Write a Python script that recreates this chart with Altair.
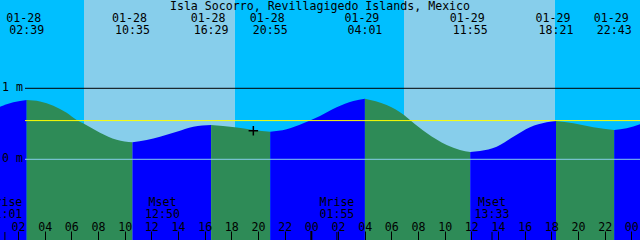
import altair as alt
import pandas as pd

title_text = "Isla Socorro, Revillagigedo Islands, Mexico"

range_start = "01-28 00:39"
range_end = "01-30 00:39"

# tide readings (time, metres)
tide_times = [
    "01-28 00:39", "01-28 01:39", "01-28 02:39", "01-28 03:39", "01-28 04:39",
    "01-28 05:39", "01-28 06:24", "01-28 06:57", "01-28 08:09", "01-28 09:24",
    "01-28 10:35", "01-28 11:39", "01-28 12:39", "01-28 13:54", "01-28 15:09",
    "01-28 16:29", "01-28 18:16", "01-28 19:39", "01-28 20:55", "01-28 22:09",
    "01-28 23:24", "01-29 00:39", "01-29 01:54", "01-29 03:09", "01-29 04:01",
    "01-29 05:39", "01-29 06:57", "01-29 07:24", "01-29 08:39", "01-29 10:09",
    "01-29 11:09", "01-29 11:55", "01-29 12:39", "01-29 13:54", "01-29 15:09",
    "01-29 16:24", "01-29 17:39", "01-29 18:21", "01-29 19:39", "01-29 21:09",
    "01-29 22:43", "01-29 23:39", "01-30 00:39",
]
tide_heights = [
    0.741, 0.803, 0.835, 0.815, 0.755,
    0.655, 0.553, 0.500, 0.375, 0.275,
    0.239, 0.272, 0.318, 0.389, 0.459,
    0.482, 0.451, 0.414, 0.389, 0.422,
    0.507, 0.610, 0.732, 0.821, 0.854,
    0.765, 0.624, 0.555, 0.370, 0.201,
    0.131, 0.103, 0.117, 0.177, 0.318,
    0.451, 0.521, 0.539, 0.507, 0.451,
    0.413, 0.437, 0.493,
]
extreme_times = [
    "01-28 02:39", "01-28 10:35", "01-28 16:29", "01-28 20:55",
    "01-29 04:01", "01-29 11:55", "01-29 18:21", "01-29 22:43",
]
sun_times = ["01-28 06:57", "01-28 18:16", "01-29 06:57", "01-29 18:16"]
moon_times = ["01-28 01:01", "01-28 12:50", "01-29 01:55", "01-29 13:33"]
moon_events = ["Mrise", "Mset", "Mrise", "Mset"]
moon_tick_times = ["01-28 01:01", "01-29 01:55", "01-29 13:33"]
midnight_times = ["01-29 00:00"]
tick_hours = ["01-28 02:00", "01-28 04:00", "01-28 06:00", "01-28 08:00",
              "01-28 10:00", "01-28 12:00", "01-28 14:00", "01-28 16:00",
              "01-28 18:00", "01-28 20:00", "01-28 22:00", "01-29 00:00",
              "01-29 02:00", "01-29 04:00", "01-29 06:00", "01-29 08:00",
              "01-29 10:00", "01-29 12:00", "01-29 14:00", "01-29 16:00",
              "01-29 18:00", "01-29 20:00", "01-29 22:00", "01-30 00:00"]
mean_level = 0.545
marker_time = "01-28 19:39"
marker_height = 0.403
level_values = [1, 0]
level_texts = ["1 m", "0 m"]
y_bottom = -1.1366
y_top = 2.2437


def hrs(s):
    """hours since 01-28 00:00"""
    day = int(s[3:5]) - 28
    return day * 24 + int(s[6:8]) + int(s[9:11]) / 60.0


# ---- tables ----
rows = []
seg = 0
ext = set(extreme_times)
for t, h in zip(tide_times, tide_heights):
    rows.append(dict(t=hrs(t), h=h, seg=seg))
    if t in ext:
        seg += 1
        rows.append(dict(t=hrs(t), h=h, seg=seg))
tide = pd.DataFrame(rows)
ends = tide.groupby("seg")["h"].agg(["first", "last"])
tide["kind"] = tide["seg"].map(
    lambda s: "rising" if ends.loc[s, "last"] > ends.loc[s, "first"] else "falling")
tide["base"] = y_bottom

bounds = [range_start] + sun_times + [range_end]
sky = pd.DataFrame({
    "t": [hrs(b) for b in bounds[:-1]],
    "t2": [hrs(b) for b in bounds[1:]],
    "kind": ["night" if i % 2 == 0 else "day" for i in range(len(bounds) - 1)],
})

extremes = pd.DataFrame({
    "t": [hrs(e) for e in extreme_times],
    "date": [e[:5] for e in extreme_times],
    "time": [e[6:] for e in extreme_times],
})
moon = pd.DataFrame({
    "t": [hrs(m) for m in moon_times],
    "ev": moon_events,
    "time": [m[6:] for m in moon_times],
})
moon_ticks = pd.DataFrame({"t": [hrs(m) for m in moon_tick_times]})
midnights = pd.DataFrame({"t": [hrs(m) for m in midnight_times]})
levels = pd.DataFrame({"h": level_values, "label": level_texts})
marker = pd.DataFrame({"t": [hrs(marker_time)], "h": [marker_height]})
title_df = pd.DataFrame({"label": [title_text]})

# ---- scales ----
FONT = "DejaVu Sans Mono"
FS = 11.6
x_scale = alt.Scale(domain=[hrs(range_start), hrs(range_end)], nice=False, zero=False)
y_scale = alt.Scale(domain=[y_bottom, y_top], nice=False, zero=False)
color_scale = alt.Scale(domain=["night", "day", "rising", "falling"],
                        range=["#00BFFF", "#87CEEB", "#0000FF", "#2E8B57"])
AX = alt.Axis(orient="top", offset=-240, values=[hrs(v) for v in tick_hours],
              labelExpr="(datum.value % 24 < 10 ? '0' : '') + (datum.value % 24)",
              domain=False, grid=False, ticks=True, tickSize=9,
              tickColor="black", tickWidth=1, labelFont=FONT,
              labelFontSize=FS, labelColor="black", labelPadding=1,
              labelBaseline="alphabetic", labelOverlap=False,
              labelFlush=False, labelAngle=0, title=None, zindex=1)


def X(field="t"):
    return alt.X(f"{field}:Q", scale=x_scale, axis=AX)


def Y(field="h"):
    return alt.Y(f"{field}:Q", scale=y_scale, axis=None, stack=None)


sky_layer = alt.Chart(sky).mark_rect().encode(
    x=X("t"), x2="t2:Q", y=alt.value(0), y2=alt.value(240),
    color=alt.Color("kind:N", scale=color_scale, legend=None))

tide_layer = alt.Chart(tide).mark_area(interpolate="monotone", orient="vertical").encode(
    x=X("t"), y=Y("h"), y2="base:Q",
    color=alt.Color("kind:N", scale=color_scale, legend=None),
    detail="seg:N")

one_rule = alt.Chart(levels[levels.h == 1]).mark_rule(color="black", strokeWidth=1).encode(
    y=Y("h"), x=alt.value(25), x2=alt.value(640))
zero_rule = alt.Chart(levels[levels.h == 0]).mark_rule(color="#87CEEB", strokeWidth=1).encode(
    y=Y("h"), x=alt.value(25), x2=alt.value(640))
mean_rule = alt.Chart(pd.DataFrame({"h": [mean_level]})).mark_rule(
    color="#FFFF00", strokeWidth=1).encode(y=Y("h"), x=alt.value(25), x2=alt.value(640))

level_text = alt.Chart(levels).mark_text(
    font=FONT, fontSize=FS, color="black", align="left", baseline="middle").encode(
    x=alt.value(2), y=Y("h"), text="label:N")

title_layer = alt.Chart(title_df).mark_text(
    font=FONT, fontSize=FS, color="black", align="center", baseline="alphabetic").encode(
    x=alt.value(320), y=alt.value(9.5), text="label:N")

date_text = alt.Chart(extremes).mark_text(
    font=FONT, fontSize=FS, color="black", align="center", baseline="alphabetic", dx=-3).encode(
    x=X("t"), y=alt.value(21.7), text="date:N")
time_text = alt.Chart(extremes).mark_text(
    font=FONT, fontSize=FS, color="black", align="center", baseline="alphabetic").encode(
    x=X("t"), y=alt.value(34.2), text="time:N")

moon_ev_text = alt.Chart(moon).mark_text(
    font=FONT, fontSize=FS, color="black", align="center", baseline="alphabetic").encode(
    x=X("t"), y=alt.value(206), text="ev:N")
moon_time_text = alt.Chart(moon).mark_text(
    font=FONT, fontSize=FS, color="black", align="center", baseline="alphabetic").encode(
    x=X("t"), y=alt.value(217.7), text="time:N")

moon_tick_layer = alt.Chart(moon_ticks).mark_rule(color="black", strokeWidth=1).encode(
    x=X("t"), y=alt.value(232), y2=alt.value(240))
midnight_layer = alt.Chart(midnights).mark_rule(color="black", strokeWidth=2).encode(
    x=X("t"), y=alt.value(231), y2=alt.value(240))

marker_layer = alt.Chart(marker).mark_point(
    shape="M-1,0L1,0M0,-1L0,1", filled=False, stroke="black", strokeWidth=1.5,
    size=90, opacity=1).encode(x=X("t"), y=Y("h"))

chart = alt.layer(
    sky_layer, tide_layer, one_rule, zero_rule, mean_rule, level_text,
    title_layer, date_text, time_text, moon_ev_text, moon_time_text,
    moon_tick_layer, midnight_layer, marker_layer,
).properties(
    width=640, height=240, padding=0, autosize=alt.AutoSizeParams(type="none")
).configure_view(stroke=None)

chart.save("out.html", embed_options={"renderer": "svg", "actions": False})
